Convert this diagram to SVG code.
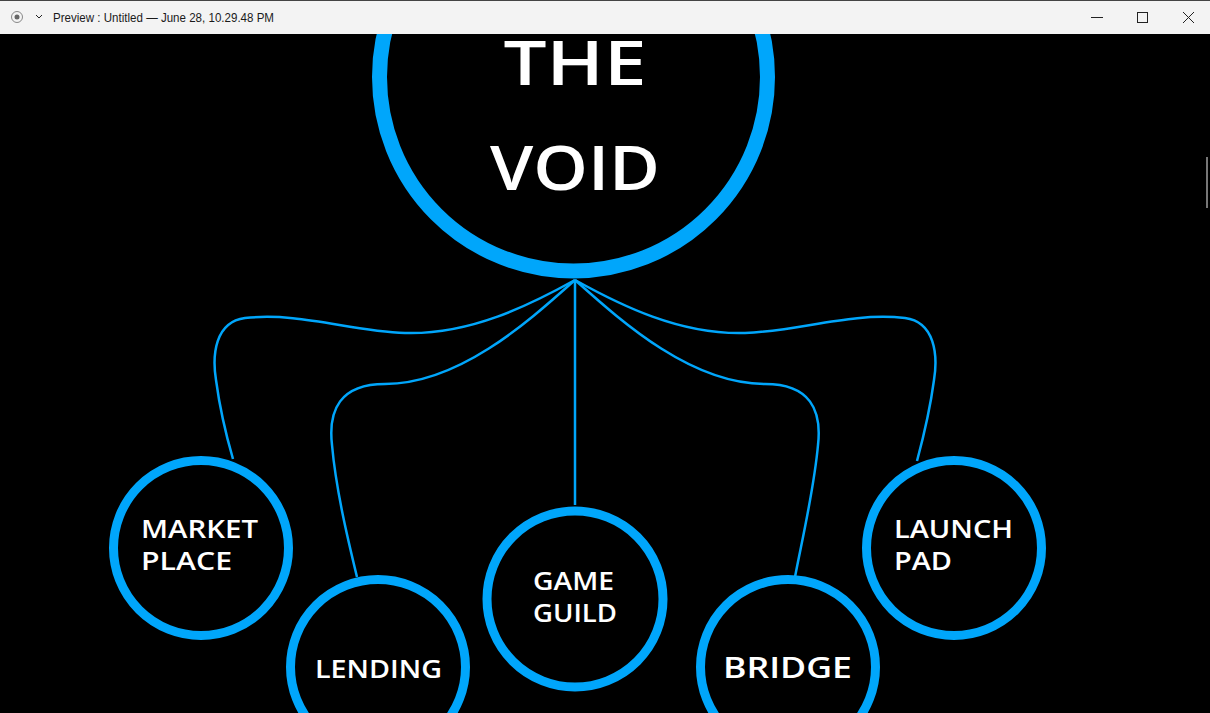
<svg xmlns="http://www.w3.org/2000/svg" width="1210" height="713" viewBox="0 0 1210 713">
<style>
.ring{fill:#000;stroke:#00a6fb;stroke-width:9}
.conn{fill:none;stroke:#00a6fb;stroke-width:2.5}
.lbl{fill:#fff;font-family:"Open Sans","DejaVu Sans",sans-serif;font-weight:600;font-size:25px}
.big{fill:#fff;font-family:"Open Sans","DejaVu Sans",sans-serif;font-weight:600;font-size:62px;text-anchor:middle}
.tb{fill:#1a1a1a;font-family:"Liberation Sans",sans-serif;font-size:12px}
.ctl{fill:none;stroke:#222;stroke-width:1}
</style>
<rect x="0" y="0" width="1210" height="713" fill="#000"/>
<rect x="1206" y="157" width="2" height="51" fill="#777"/>
<g id="connectors">
<path class="conn" d="M575,280 C530,305 470,335 405,333 C350,331 300,312 245,318 C215,322 212,355 216,380 C220,410 226,435 233,459"/>
<path class="conn" d="M575,280 C530,320 460,384 385,384 C340,384 328,410 332,445 C336,490 348,540 357,577"/>
<path class="conn" d="M575,280 V505"/>
<path class="conn" d="M575,280 C620,320 690,384 765,384 C810,384 822,410 818,445 C814,490 802,540 795,577"/>
<path class="conn" d="M575,280 C620,305 680,335 745,333 C800,331 850,312 905,318 C935,322 938,355 934,380 C930,410 924,435 917,461"/>
</g>
<g id="void">
<circle cx="573.5" cy="77" r="194" fill="#000" stroke="#00a6fb" stroke-width="15"/>
<text x="575" y="85" class="big" textLength="143" lengthAdjust="spacingAndGlyphs">THE</text>
<text x="575" y="190" class="big" textLength="170" lengthAdjust="spacingAndGlyphs">VOID</text>
</g>
<g id="marketplace">
<circle cx="201" cy="548" r="87.5" class="ring"/>
<text x="141" y="538" class="lbl" textLength="117" lengthAdjust="spacingAndGlyphs">MARKET</text>
<text x="141" y="570" class="lbl" textLength="91" lengthAdjust="spacingAndGlyphs">PLACE</text>
</g>
<g id="lending">
<circle cx="378" cy="667" r="87.5" class="ring"/>
<text x="315" y="678" class="lbl" textLength="127" lengthAdjust="spacingAndGlyphs">LENDING</text>
</g>
<g id="gameguild">
<circle cx="575" cy="599" r="88" class="ring"/>
<text x="533" y="590" class="lbl" textLength="81" lengthAdjust="spacingAndGlyphs">GAME</text>
<text x="533" y="622" class="lbl" textLength="84" lengthAdjust="spacingAndGlyphs">GUILD</text>
</g>
<g id="bridge">
<circle cx="788" cy="667" r="87.5" class="ring"/>
<text x="723" y="678" class="lbl" style="font-size:29px" textLength="129" lengthAdjust="spacingAndGlyphs">BRIDGE</text>
</g>
<g id="launchpad">
<circle cx="954" cy="548" r="87.5" class="ring"/>
<text x="894" y="538" class="lbl" textLength="119" lengthAdjust="spacingAndGlyphs">LAUNCH</text>
<text x="894" y="570" class="lbl" textLength="58" lengthAdjust="spacingAndGlyphs">PAD</text>
</g>
<g id="titlebar">
<rect x="0" y="1" width="1210" height="33" fill="#f3f3f3"/>
<rect x="0" y="0" width="1210" height="1" fill="#444"/>
<circle cx="17" cy="17" r="5.5" fill="none" stroke="#888" stroke-width="1"/>
<circle cx="17" cy="17" r="2.5" fill="#666"/>
<path d="M36,15 L39,18 L42,15" class="ctl" stroke="#444"/>
<text x="53" y="22" class="tb" textLength="221" lengthAdjust="spacingAndGlyphs">Preview : Untitled — June 28, 10.29.48 PM</text>
<path d="M1091,17.5 H1103" class="ctl"/>
<rect x="1137.5" y="12.5" width="10" height="10" class="ctl"/>
<path d="M1183,12 L1194,23 M1194,12 L1183,23" class="ctl"/>
</g>
</svg>
